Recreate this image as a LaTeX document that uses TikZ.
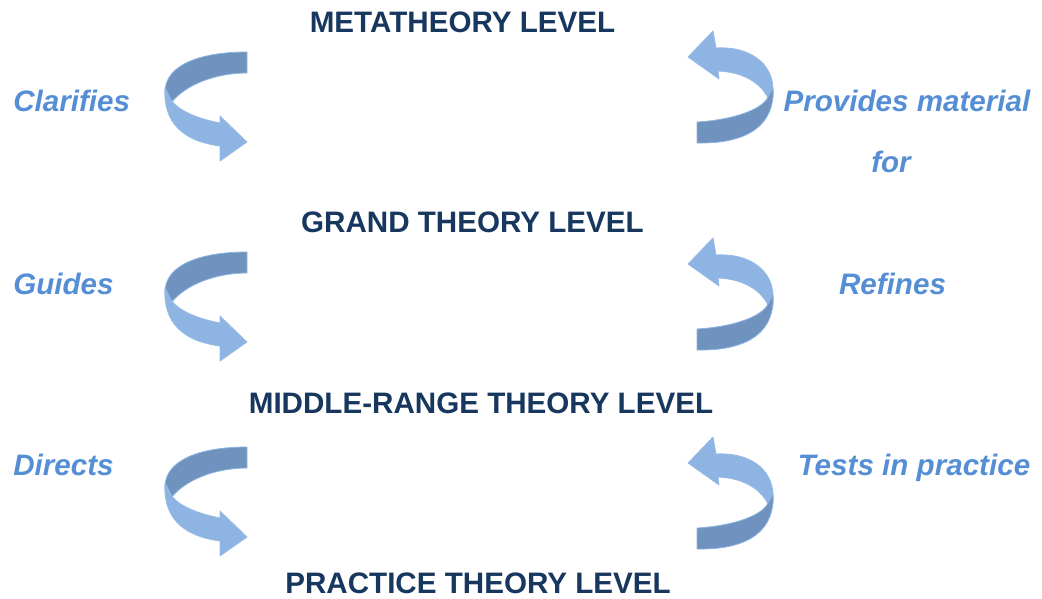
\documentclass[tikz,border=0pt]{standalone}
\usepackage{fontspec}
\setmainfont{Liberation Sans}
\definecolor{title}{HTML}{17375E}
\definecolor{lab}{HTML}{558ED5}
\definecolor{arrlight}{HTML}{8DB4E2}
\definecolor{arrdark}{HTML}{6F92BE}
\tikzset{
  titletext/.style={text=title, font=\fontsize{22.2}{26}\selectfont\bfseries, inner sep=0pt, anchor=base},
  labtext/.style={text=lab, font=\fontsize{22.2}{26}\selectfont\bfseries\itshape, inner sep=0pt},
  backband/.style={fill=arrdark, draw=arrlight, line width=0.6pt, line join=round},
  frontband/.style={fill=arrlight, draw=arrlight!90!white, line width=0.6pt, line join=round},
}
\newcommand{\curlLeft}[2]{%
\begin{scope}[shift={(0,#1)}]
\path[backband] (247,52) .. controls (200,52) and (165,65) .. (165,92) -- (171,103) .. controls (185,85) and (215,73) .. (247,73) -- cycle;
\path[frontband] (165,88) .. controls (163,122) and (182,141) .. (220,146) -- (220,161) -- (247,142) coordinate (#2) -- (220,116) -- (220,123) .. controls (195,118) and (178,110) .. (171,100) -- cycle;
\end{scope}}
\newcommand{\curlRight}[2]{%
\begin{scope}[shift={(0,#1)}]
\path[frontband] (688,57) coordinate (#2) -- (713,31) -- (716,48) .. controls (748,46) and (772,62) .. (773,88) -- (773,98) -- (768,98) .. controls (760,82) and (742,72) .. (718,71) -- (719,79) -- cycle;
\path[backband] (697,143) -- (697,122) .. controls (732,120) and (762,110) .. (768,97) -- (773,88) .. controls (775,122) and (752,144) .. (697,143) -- cycle;
\end{scope}}
\begin{document}
\begin{tikzpicture}[x=0.75pt,y=-0.75pt]
\useasboundingbox (0,0) rectangle (1042,599);
% levels
\node[titletext] (meta) at (462.5,33) {METATHEORY LEVEL};
\node[titletext] (grand) at (472.5,232) {GRAND THEORY LEVEL};
\node[titletext] (middle) at (481,413) {MIDDLE-RANGE THEORY LEVEL};
\node[titletext] (practice) at (478,593) {PRACTICE THEORY LEVEL};
% left labels
\node[labtext, anchor=base west] (clar) at (13,112) {Clarifies};
\node[labtext, anchor=base west] (guid) at (13,294) {Guides};
\node[labtext, anchor=base west] (dire) at (13,475) {Directs};
% right labels
\node[labtext, anchor=base] (prov) at (907,112) {Provides material};
\node[labtext, anchor=base] (provfor) at (891,173) {for};
\node[labtext, anchor=base] (refi) at (892.5,294) {Refines};
\node[labtext, anchor=base] (test) at (914,475) {Tests in practice};
% curved arrows
\curlLeft{0}{la1}
\curlLeft{200}{la2}
\curlLeft{395}{la3}
\curlRight{0}{ra1}
\curlRight{207}{ra2}
\curlRight{406}{ra3}
\end{tikzpicture}
\end{document}
